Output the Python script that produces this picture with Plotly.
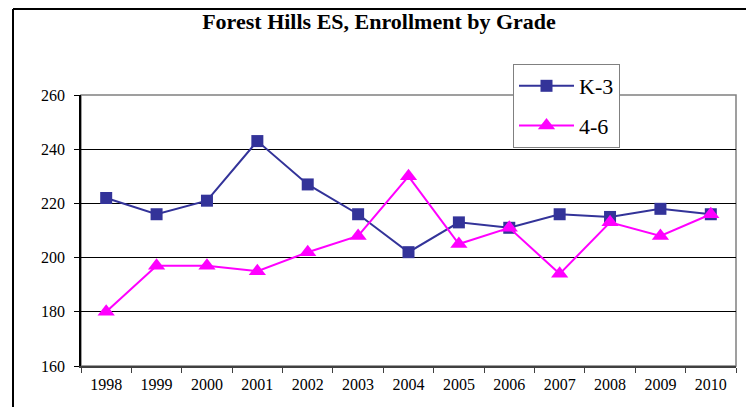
import plotly.graph_objects as go

years = ["1998", "1999", "2000", "2001", "2002", "2003", "2004",
         "2005", "2006", "2007", "2008", "2009", "2010"]
k3 = [222, 216, 221, 243, 227, 216, 202, 213, 211, 216, 215, 218, 216]
g46 = [180, 197, 197, 195, 202, 208, 230, 205, 211, 194, 213, 208, 216]
y_ticks = [160, 180, 200, 220, 240, 260]

FONT = "Liberation Serif, Times New Roman, serif"

fig = go.Figure()
fig.add_trace(go.Scatter(
    x=years, y=k3, name="K-3", mode="lines+markers", legendgroup="a",
    line=dict(color="#333399", width=2),
    marker=dict(symbol="square", size=12, color="#333399"),
))
fig.add_trace(go.Scatter(
    x=years, y=g46, name="4-6", mode="lines+markers", legendgroup="b",
    line=dict(color="#FF00FF", width=2),
    marker=dict(symbol="triangle-up", size=15, color="#FF00FF"),
))

OFF = 8  # default page body margin
W, H = 754, 407
L, R, T, B = 81 - OFF, 736 - OFF, 95 - OFF, 366 - OFF
pw, ph = R - L, B - T

def px(x):
    return (x - OFF - L) / pw

def py(y):
    return (B - (y - OFF)) / ph

fig.update_layout(
    width=W, height=H,
    margin=dict(l=L, r=W - R, t=T, b=H - B),
    paper_bgcolor="white", plot_bgcolor="white",
    font=dict(family=FONT, color="black", size=16),
    title=dict(text="<b>Forest Hills ES, Enrollment by Grade</b>",
               x=px(379), xref="paper", xanchor="center",
               y=1 - (21 - OFF) / H, yanchor="middle",
               font=dict(family=FONT, size=22, color="black")),
    showlegend=True,
    legend=dict(x=px(513), y=py(64), xanchor="left", yanchor="top",
                bgcolor="white", bordercolor="#808080", borderwidth=1,
                font=dict(family=FONT, size=22, color="black"),
                traceorder="grouped", tracegroupgap=8,
                itemwidth=55),
    xaxis=dict(type="category", showgrid=False, tickson="boundaries",
               ticks="outside", ticklen=5, tickcolor="#404040",
               showline=True, linecolor="#404040", linewidth=1.5,
               tickfont=dict(family=FONT, size=16), mirror=False,
               ticklabelstandoff=3,
               range=[-0.5, len(years) - 0.5]),
    yaxis=dict(range=[160, 260], tickvals=y_ticks, showgrid=True,
               gridcolor="black", gridwidth=1,
               ticks="outside", ticklen=5, tickcolor="black",
               showline=True, linecolor="black", linewidth=1.5,
               tickfont=dict(family=FONT, size=16), zeroline=False,
               ticklabelstandoff=6),
)

# plot area border (top/right gray)
fig.add_shape(type="rect", xref="paper", yref="paper", x0=0, x1=1, y0=0, y1=1,
              line=dict(color="#808080", width=1.5), layer="below")
# outer chart border: top and left lines
fig.add_shape(type="line", xref="paper", yref="paper",
              x0=px(13), x1=px(760), y0=py(9), y1=py(9),
              line=dict(color="black", width=2))
fig.add_shape(type="line", xref="paper", yref="paper",
              x0=px(13), x1=px(13), y0=py(9), y1=py(430),
              line=dict(color="black", width=2))

fig.write_html("out.html")
